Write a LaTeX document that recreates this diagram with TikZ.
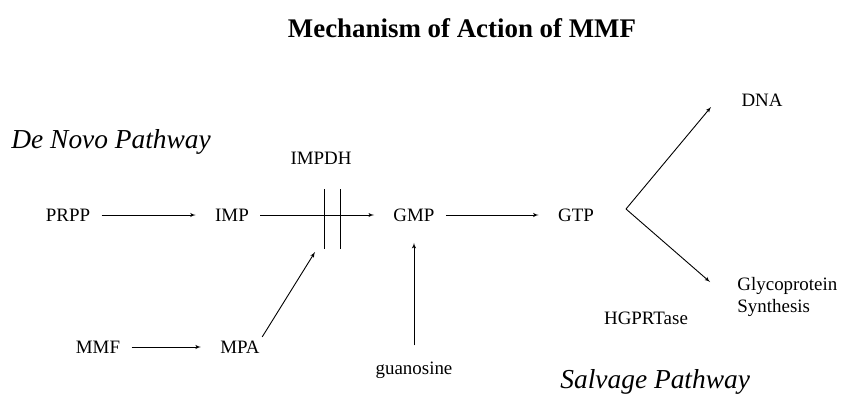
\documentclass[tikz,border=0pt]{standalone}
\usepackage{fontspec}
\setmainfont{Liberation Serif}
\usetikzlibrary{arrows}

\begin{document}
\begin{tikzpicture}[>=latex',line join=bevel,x=1bp,y=-1bp,line width=0.9bp,
    chem/.style={inner sep=0pt,font=\fontsize{19}{22}\selectfont},
    path/.style={inner sep=0pt,font=\fontsize{27.5}{30}\selectfont\itshape},
    flow/.style={->,shorten <=11bp,shorten >=19bp}]
    \useasboundingbox (0,0) rectangle (843,398);
    %%
    \node[inner sep=0pt,font=\fontsize{27}{30}\selectfont\bfseries] (title) at (462,28) {Mechanism of Action of MMF};
      \node[path,anchor=west] (denovo) at (11,142) {De Novo Pathway};
      \node[path,anchor=west] (salvage) at (560,382) {Salvage Pathway};
      \node[chem] (prpp) at (68,215) {PRPP};
      \node[chem] (imp) at (232,215) {IMP};
      \node[chem] (gmp) at (414,215) {GMP};
      \node[chem] (gtp) at (576,215) {GTP};
      \node[chem] (impdh) at (321,158) {IMPDH};
      \node[chem] (mmf) at (98,347) {MMF};
      \node[chem] (mpa) at (240,347) {MPA};
      \node[chem] (guan) at (414,370) {guanosine};
      \node[chem] (dna) at (762,100) {DNA};
      \node[chem,anchor=west,align=left] (glyco) at (737,297) {Glycoprotein\\Synthesis};
      \node[chem] (hgprt) at (646,318) {HGPRTase};
      %
      \coordinate (bara1) at (324,189);
      \coordinate (bara2) at (324,249);
      \coordinate (barb1) at (340,189);
      \coordinate (barb2) at (340,249);
      \coordinate (block) at (315,252);
      \coordinate (fork) at (626,209);
      \coordinate (dnatip) at (711,107);
      \coordinate (glytip) at (710,282);
      %
      \draw [flow] (prpp.east) -- (imp.west);
      \draw [flow] (imp.east) -- (gmp.west);
      \draw [flow] (gmp.east) -- (gtp.west);
      \draw [flow] (mmf.east) -- (mpa.west);
      \draw (bara1) -- (bara2);
      \draw (barb1) -- (barb2);
      \draw [->,shorten <=4bp] (mpa.north east) -- (block);
      \draw [->,shorten <=16bp,shorten >=21bp] (guan.north) -- (guan.north |- gmp.south);
      \draw [->] (fork) -- (dnatip);
      \draw [->] (fork) -- (glytip);
    %
    \end{tikzpicture}
\end{document}
